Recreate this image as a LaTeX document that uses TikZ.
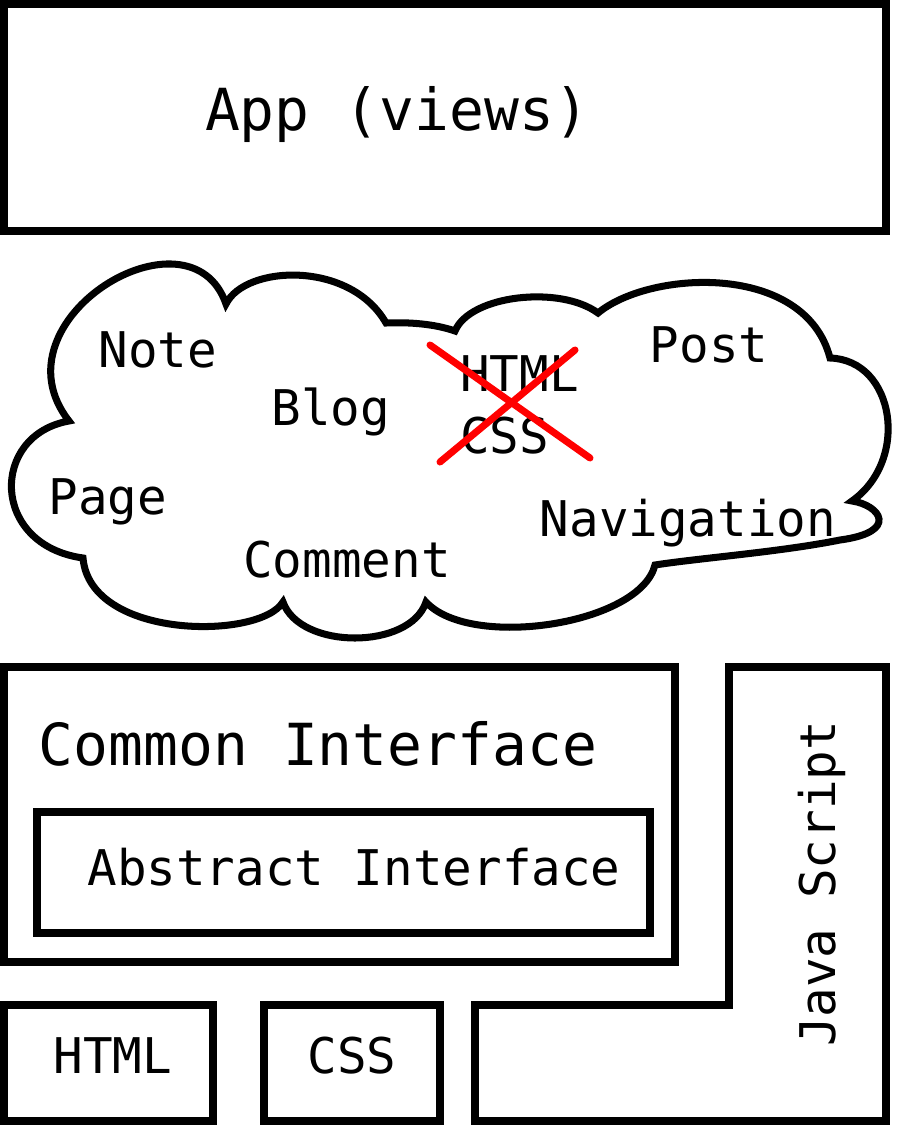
\documentclass[tikz,border=0pt]{standalone}
\usepackage{fontspec}
\setmonofont{DejaVu Sans Mono}
\begin{document}
\begin{tikzpicture}[
  x=0.02cm,y=-0.02cm,
  frame/.style={draw=black,line width=4.5pt,line join=miter},
  cloudline/.style={draw=black,line width=4pt,line join=miter},
  cross/.style={draw=red,line width=4pt,line cap=round},
  big/.style={font=\ttfamily\fontsize{33}{33}\selectfont,anchor=base,inner sep=0pt},
  word/.style={font=\ttfamily\fontsize{28}{28}\selectfont,anchor=base,inner sep=0pt},
]
\useasboundingbox (0,0) rectangle (897,1125);
% app
\draw[frame] (4,4) rectangle (886,231);
\node[big] (app) at (397,131) {App (views)};
% cloud of components
\draw[cloudline] (69,421)
  .. controls (-10,320) and (190,200) .. (226,304)
  .. controls (245,265) and (350,260) .. (386,323)
  .. controls (410,322) and (435,324) .. (455,331)
  .. controls (470,295) and (560,285) .. (598,313)
  .. controls (650,270) and (805,262) .. (830,358)
  .. controls (895,360) and (910,460) .. (852,501)
  .. controls (880,505) and (900,532) .. (840,540)
  .. controls (780,552) and (700,558) .. (655,565)
  .. controls (640,625) and (470,650) .. (426,602)
  .. controls (410,650) and (300,650) .. (283,602)
  .. controls (260,640) and (90,640) .. (83,558)
  .. controls (-10,545) and (-10,435) .. (69,421) -- cycle;
\node[word] (note) at (158,367) {Note};
\node[word] (blog) at (331,425) {Blog};
\node[word,anchor=base west] (html1) at (460,391) {HTML};
\node[word,anchor=base west] (css1) at (460,453) {CSS};
\node[word] (post) at (709,362) {Post};
\node[word] (page) at (108,514) {Page};
\node[word] (comment) at (347,577) {Comment};
\node[word] (nav) at (688,536) {Navigation};
\coordinate (x1a) at (430,345);
\coordinate (x1b) at (590,458);
\coordinate (x2a) at (440,462);
\coordinate (x2b) at (575,350);
\draw[cross] (x1a) -- (x1b);
\draw[cross] (x2a) -- (x2b);
% interfaces
\draw[frame] (4,667) rectangle (675,962);
\node[big] (common) at (318,765) {Common Interface};
\draw[frame] (37,812) rectangle (650,933);
\node[word] (abstract) at (354,885) {Abstract Interface};
% bottom row
\draw[frame] (4,1005) rectangle (213,1121);
\node[word] (html2) at (113,1073) {HTML};
\draw[frame] (264,1005) rectangle (440,1121);
\node[word] (css2) at (352,1073) {CSS};
\draw[frame] (729,667) -- (886,667) -- (886,1121) -- (475,1121) -- (475,1005) -- (729,1005) -- cycle;
\node[word,rotate=90] (js) at (835,884) {Java Script};
\end{tikzpicture}
\end{document}
